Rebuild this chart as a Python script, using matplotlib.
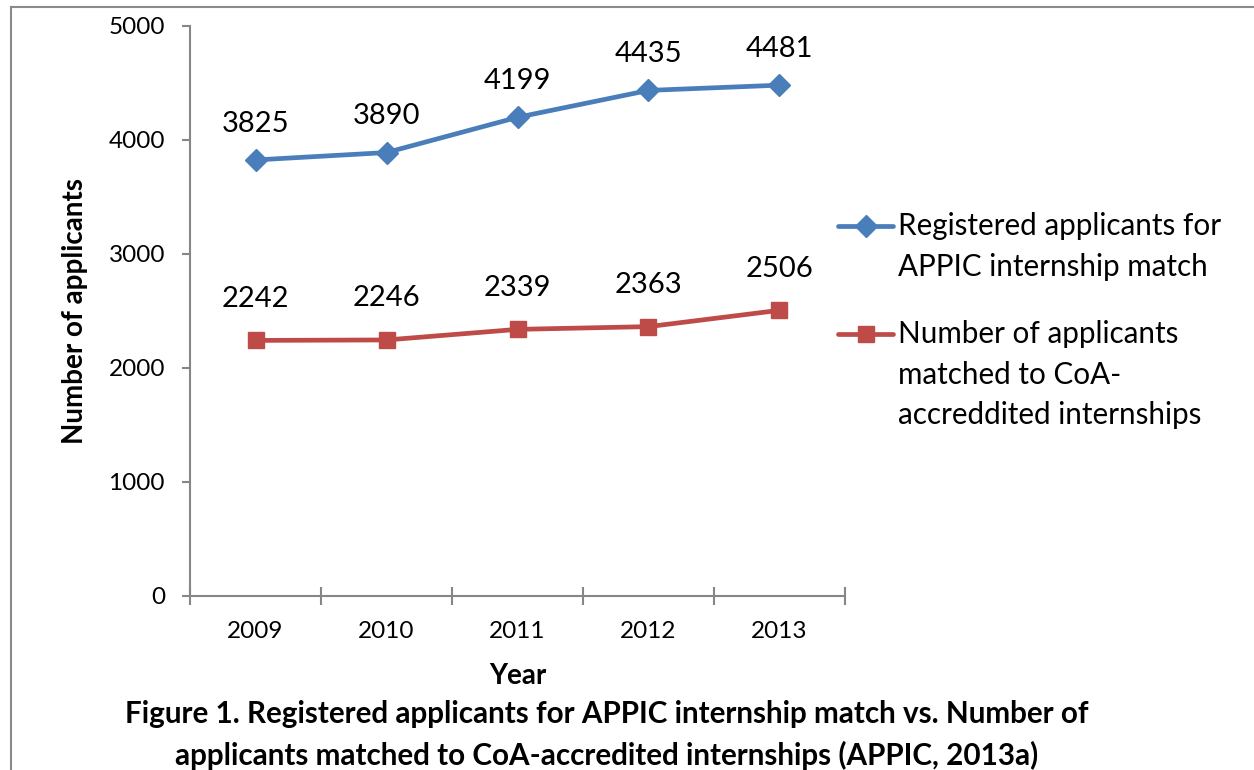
import matplotlib
matplotlib.use("Agg")
import matplotlib.pyplot as plt
from matplotlib.lines import Line2D

years = ["2009", "2010", "2011", "2012", "2013"]
registered = [3825, 3890, 4199, 4435, 4481]
matched = [2242, 2246, 2339, 2363, 2506]
legend_labels = ["Registered applicants for\nAPPIC internship match",
                 "Number of applicants\nmatched to CoA-\naccreddited internships"]
y_ticks = [0, 1000, 2000, 3000, 4000, 5000]
caption = ("Figure 1. Registered applicants for APPIC internship match vs. Number of\n"
           "applicants matched to CoA-accredited internships (APPIC, 2013a)")

plt.rcParams['font.family'] = ['Lato', 'DejaVu Sans']

W, H = 1254, 770
fig = plt.figure(figsize=(W / 100, H / 100), dpi=100)
ax = fig.add_axes([190 / W, 1 - 596 / H, 655 / W, 570 / H])

blue = "#4A7EBB"
red = "#BE4B48"
gray = "#868686"

x = list(range(len(years)))
ax.plot(x, registered, color=blue, lw=3.4, marker='D', ms=11, mec=blue, mfc=blue, zorder=3)
ax.plot(x, matched, color=red, lw=3.4, marker='s', ms=12, mec=red, mfc=red, zorder=3)

for xi, v in zip(x, registered):
    ax.annotate(str(v), (xi, v), xytext=(0, 26), textcoords='offset points',
                ha='center', va='center', fontsize=21)
for xi, v in zip(x, matched):
    ax.annotate(str(v), (xi, v), xytext=(0, 30), textcoords='offset points',
                ha='center', va='center', fontsize=21)

ax.set_xlim(-0.5, len(years) - 0.5)
ax.set_ylim(0, 5000)
ax.set_yticks(y_ticks)
ax.set_yticklabels([str(t) for t in y_ticks], fontsize=17.5)
ax.set_xticks(x)
ax.set_xticklabels(years, fontsize=17.5)
ax.tick_params(axis='x', which='major', length=0, pad=18)
ax.set_xticks([i - 0.5 for i in range(len(years) + 1)], minor=True)
ax.tick_params(axis='x', which='minor', direction='inout', length=13, width=1.5, color=gray)
ax.tick_params(axis='y', direction='out', length=6, width=1.5, color=gray, pad=12)

for s in ['top', 'right']:
    ax.spines[s].set_visible(False)
for s in ['left', 'bottom']:
    ax.spines[s].set_color(gray)
    ax.spines[s].set_linewidth(1.5)

ax.set_ylabel("Number of applicants", fontsize=20, fontweight='bold', labelpad=15)
ax.set_xlabel("Year", fontsize=20, fontweight='bold', labelpad=15)

# legend drawn manually (handle aligned with first text line)
def legend_entry(y_px, color, marker, ms, text):
    fig.add_artist(Line2D([838 / W, 893 / W], [1 - y_px / H] * 2, color=color, lw=3.4,
                          solid_capstyle='round'))
    fig.add_artist(Line2D([866 / W], [1 - y_px / H], color=color, marker=marker, ms=ms,
                          mec=color, mfc=color))
    fig.text(898 / W, 1 - (y_px - 14) / H, text, fontsize=21.3, ha='left', va='top',
             linespacing=1.55)

legend_entry(226, blue, 'D', 11, legend_labels[0])
legend_entry(334, red, 's', 12, legend_labels[1])

fig.text(607 / W, 1 - 735 / H, caption, fontsize=21.3, fontweight='bold',
         ha='center', va='center', linespacing=1.5)

# outer frame
fig.add_artist(Line2D([11 / W, 11 / W], [0, 1 - 7 / H], color="#8A8A8A", lw=1.5))
fig.add_artist(Line2D([11 / W, 1], [1 - 7 / H, 1 - 7 / H], color="#8A8A8A", lw=1.5))

fig.savefig("out.png", dpi=100)
